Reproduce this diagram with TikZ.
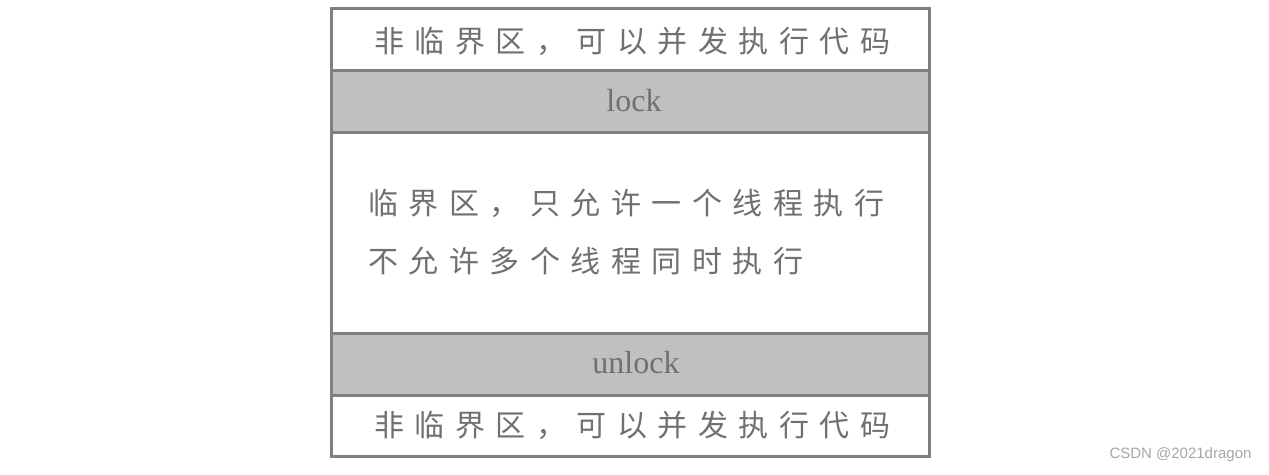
\documentclass[tikz,border=0pt]{standalone}
\usepackage{fontspec}
\setmainfont{Liberation Serif}
\newfontfamily\cjk[LetterSpace=35]{Noto Sans CJK SC}
\newfontfamily\wm{Liberation Sans}
\definecolor{bord}{HTML}{808080}
\definecolor{txt}{HTML}{707070}
\definecolor{fillg}{HTML}{C0C0C0}
\tikzset{row/.style={draw=bord,line width=3pt},
 zh/.style={text=txt,font=\cjk\fontsize{30}{58}\selectfont,inner sep=0pt},
 en/.style={text=txt,font=\fontsize{32}{36}\selectfont,inner sep=0pt}}
\begin{document}
\begin{tikzpicture}[x=1pt,y=-1pt]
\useasboundingbox (0,0) rectangle (1269,474);
\draw[row] (331,8) rectangle (929,70);
\draw[row,fill=fillg] (331,70) rectangle (929,132);
\draw[row] (331,132) rectangle (929,333);
\draw[row,fill=fillg] (331,333) rectangle (929,395);
\draw[row] (331,395) rectangle (929,456);
\node[zh] (t1) at (632,41) {非临界区，可以并发执行代码};
\node[en] (t2) at (634,101) {lock};
\node[zh,align=left,anchor=west] (t3) at (368,232) {临界区，只允许一个线程执行\\不允许多个线程同时执行};
\node[en] (t4) at (636,363) {unlock};
\node[zh] (t5) at (632,425) {非临界区，可以并发执行代码};
\node[text=bord!70,font=\wm\fontsize{15}{18}\selectfont,anchor=east] (wm) at (1255,455) {CSDN @2021dragon};
\end{tikzpicture}
\end{document}
